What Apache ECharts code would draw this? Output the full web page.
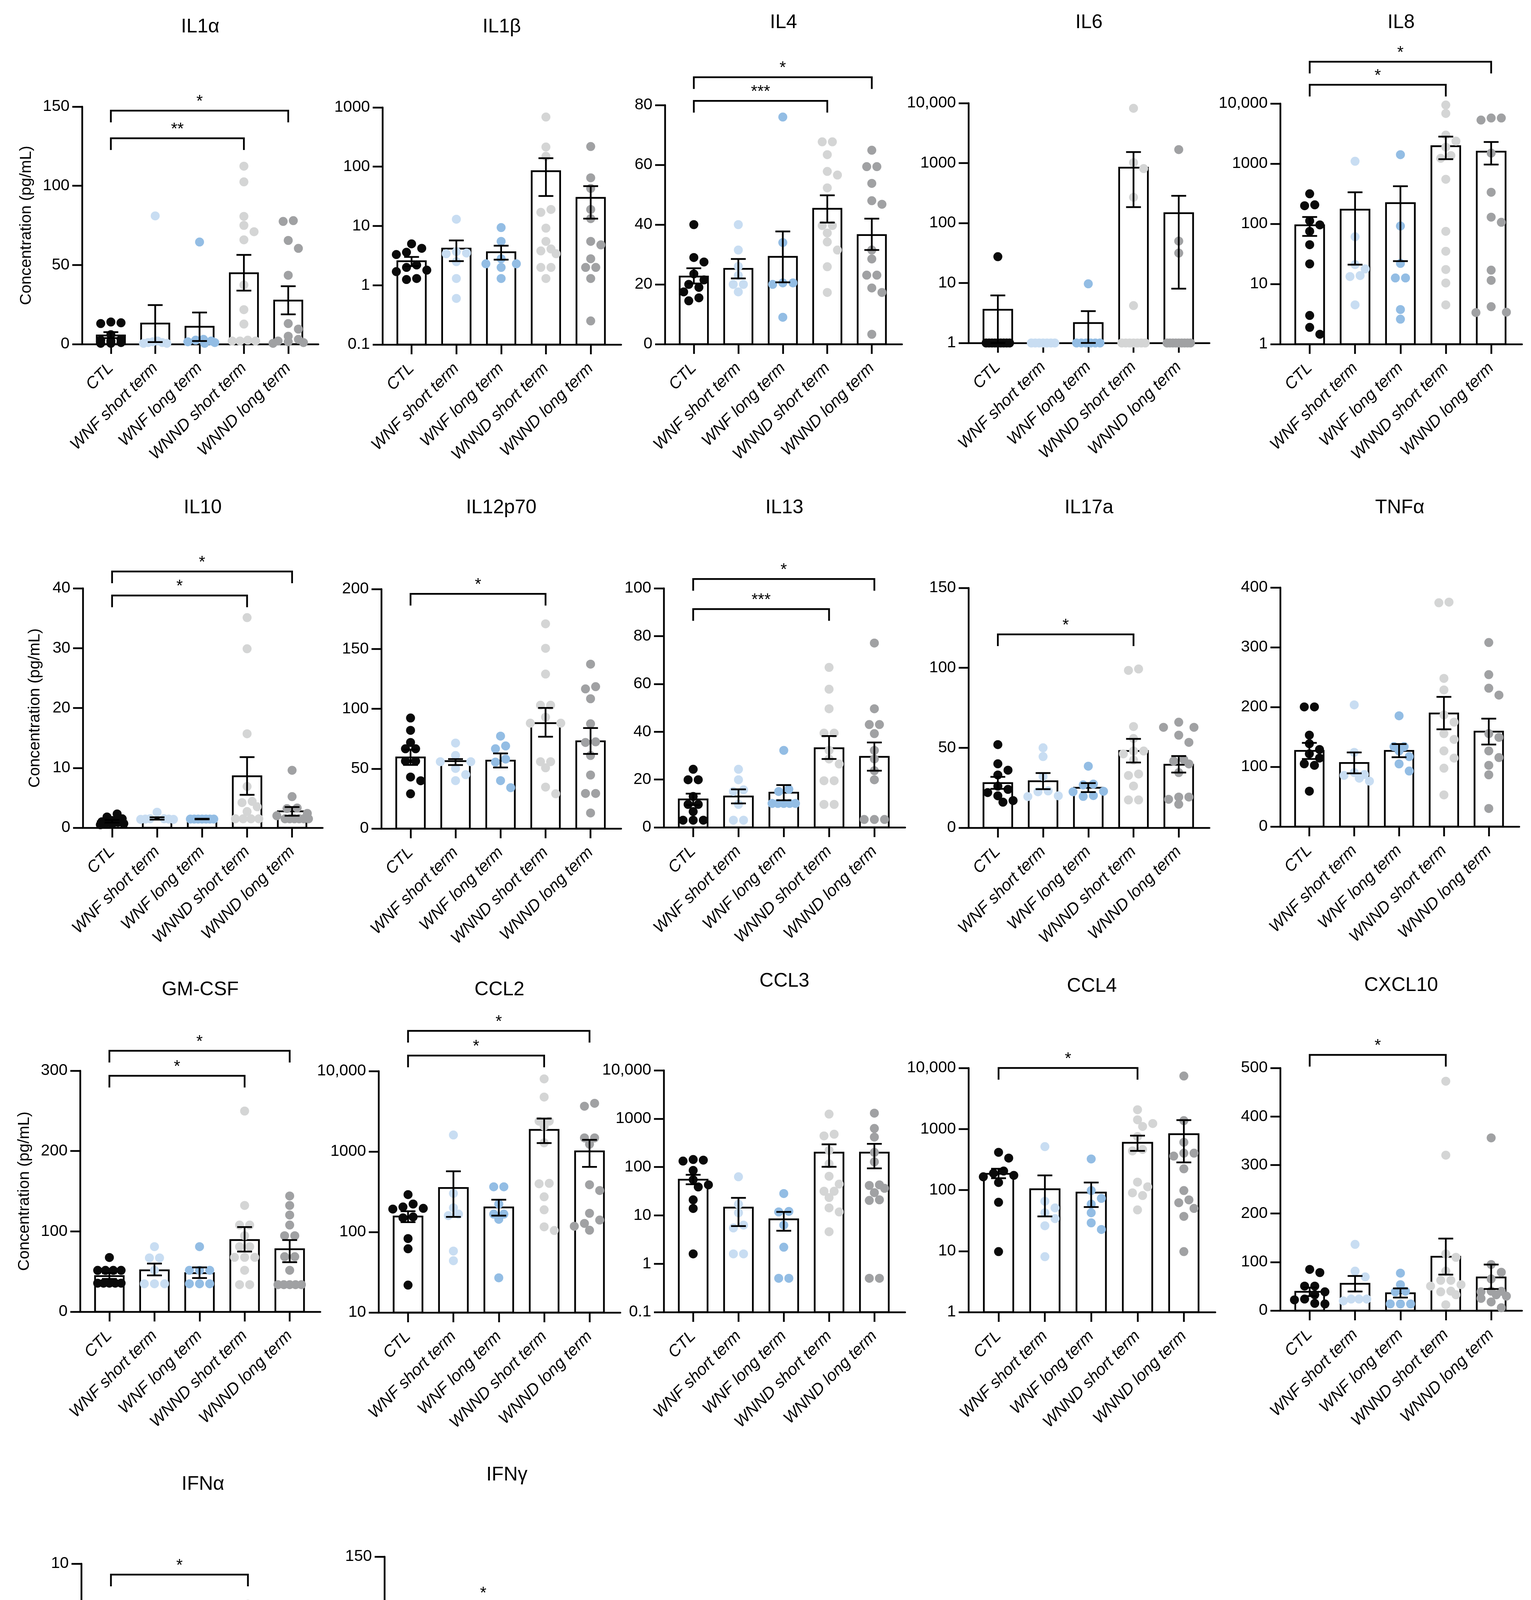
<!DOCTYPE html>
<html>
<head>
<meta charset="utf-8">
<title>Cytokine concentrations</title>
<script src="https://cdn.jsdelivr.net/npm/echarts@6.0.0/dist/echarts.min.js"></script>
<style>
html, body { margin: 0; padding: 0; background: #fff; }
#main { width: 3919px; height: 4944px; }
</style>
</head>
<body>
<div id="main"></div>
<script>
var FONT = "'Liberation Sans', Arial, Helvetica, sans-serif";
var groups = ["CTL", "WNF short term", "WNF long term", "WNND short term", "WNND long term"];
var groupColors = ["#0a0a0a", "#c8ddf2", "#93bde4", "#d4d5d5", "#a0a1a3"];

// IL1α
var il1aMean = [5.5, 13, 11, 44.8, 27.5];
var il1aHi = [7.6, 24.7, 20, 56.4, 36.6];
var il1aLo = [3.8, 1.3, 2, 33.8, 18.8];
var il1aDots = [
    [14, 13.5, 13, 6, 3, 2.5, 2, 1, 0.5, 0.5],
    [81, 2, 1.5, 1, 1, 0.5, 0.5],
    [64.5, 3, 2.5, 2, 1.5, 1, 0.5],
    [112.4, 102.5, 80.7, 75, 71, 65.9, 37.4, 21.8, 12.7, 2.5, 2, 2, 2],
    [78, 77.5, 65.5, 60.5, 43.5, 13, 9.5, 5, 3, 2, 1.5, 1, 0.5]
];
var il1aTicks = [0, 50, 100, 150];
var il1aSig = [[0, 4, 147.5, "*"], [0, 3, 130, "**"]];

// IL1β
var il1bMean = [2.54, 4.14, 3.6, 84, 29.8];
var il1bHi = [3.0, 5.7, 4.65, 139, 47];
var il1bLo = [2.1, 2.55, 2.7, 32, 13.3];
var il1bDots = [
    [5, 4.2, 3.6, 3.3, 2.2, 2, 1.8, 1.7, 1.3, 1.25],
    [13, 3.7, 3.5, 3.4, 2.5, 1.3, 0.6],
    [9.4, 5.5, 2.8, 2.3, 2.3, 2.0, 1.3],
    [689, 215, 150, 19, 17, 9.2, 5.5, 4.1, 3.8, 3.4, 2, 2, 1.3],
    [219, 65, 43, 19, 13.3, 5.5, 4.8, 2.8, 2, 2, 1.3, 0.25]
];
var il1bTicks = [0.1, 1, 10, 100, 1000];
var il1bSig = [];

// IL4
var il4Mean = [22.6, 25.2, 29.2, 45.3, 36.5];
var il4Hi = [25.4, 28.5, 37.7, 49.8, 42];
var il4Lo = [20.3, 22, 20.7, 40.7, 31.5];
var il4Dots = [
    [40, 29, 27.5, 23.5, 21.5, 20, 19, 17.5, 15.5, 14.5],
    [40, 31.5, 26, 23, 20, 20, 17.5],
    [76, 34, 20.5, 20.5, 20, 9],
    [67.7, 67.7, 63.4, 57.8, 56.6, 52.3, 39.7, 39.7, 37.2, 34.2, 31.5, 25.9, 17.3],
    [64.9, 59.4, 59.4, 53.8, 48, 46.8, 31.5, 28.5, 23.1, 23.1, 18.8, 17.3, 3.3]
];
var il4Ticks = [0, 20, 40, 60, 80];
var il4Sig = [[0, 4, 89.3, "*"], [0, 3, 81.4, "***"]];

// IL6
var il6Mean = [3.58, 1, 2.15, 838, 146];
var il6Hi = [6.2, 1, 3.4, 1530, 285];
var il6Lo = [1, 1, 1, 184, 8.05];
var il6Dots = [
    [27.5, 1, 1, 1, 1, 1, 1, 1, 1, 1],
    [1, 1, 1, 1, 1, 1, 1],
    [9.7, 1, 1, 1, 1, 1, 1],
    [8200, 1019, 810, 269, 4.2, 1, 1, 1, 1, 1, 1, 1],
    [1680, 50, 31.6, 1, 1, 1, 1, 1, 1, 1, 1, 1]
];
var il6Ticks = [1, 10, 100, 1000, 10000];
var il6Sig = [];

// IL8
var il8Mean = [94.4, 172, 221, 1950, 1585];
var il8Hi = [130, 335, 422, 2818, 2291];
var il8Lo = [63, 21, 24, 1189, 966];
var il8Dots = [
    [316, 207, 200, 112, 96, 75, 45, 21.6, 3.0, 1.9, 1.46],
    [1096, 61, 21, 17.8, 13.8, 13.3, 4.5],
    [1413, 92, 22, 12.6, 12.6, 3.76, 2.6],
    [9440, 6840, 2985, 2371, 1884, 1365, 1230, 550, 75, 35, 17.4, 10.4, 4.5],
    [5750, 5750, 5310, 1500, 335, 129, 106, 17, 11.5, 4.2, 3.4, 3.35]
];
var il8Ticks = [1, 10, 100, 1000, 10000];
var il8Sig = [[0, 4, 49500, "*"], [0, 3, 20500, "*"]];

// IL10
var il10Mean = [1.06, 1.54, 1.45, 8.6, 2.74];
var il10Hi = [1.3, 1.75, 1.5, 11.8, 3.46];
var il10Lo = [0.85, 1.35, 1.4, 5.5, 2.0];
var il10Dots = [
    [2.3, 1.8, 1.5, 1.2, 1.0, 0.9, 0.8, 0.7, 0.6, 0.5],
    [2.6, 1.5, 1.5, 1.45, 1.45, 1.4, 1.4],
    [1.45, 1.45, 1.45, 1.45, 1.45, 1.45, 1.45],
    [35.1, 29.9, 15.7, 6.9, 4.4, 4.2, 3.5, 2.7, 1.5, 1.5, 1.5, 1.5],
    [9.6, 5.2, 3.3, 3.2, 2.4, 2.0, 1.5, 1.5, 1.5, 1.5, 1.5, 1.5]
];
var il10Ticks = [0, 10, 20, 30, 40];
var il10Sig = [[0, 4, 42.8, "*"], [0, 3, 38.8, "*"]];

// IL12p70
var il12Mean = [59.4, 56.3, 56.7, 88, 72.8];
var il12Hi = [65.9, 58, 62.7, 100.7, 83.9];
var il12Lo = [53.1, 53, 51, 76.7, 62.3];
var il12Dots = [
    [92.3, 82, 71.9, 66.6, 66.6, 56.3, 56.3, 43, 39.9, 29],
    [71.4, 61, 55.8, 55.8, 50.2, 45, 40],
    [77.2, 69, 66.6, 58, 55.5, 40, 34.1],
    [171, 150.5, 129, 103, 103, 93, 88, 88, 55.8, 55.8, 50.7, 34.6, 29],
    [137.3, 118.5, 116.6, 108.4, 87.5, 72.4, 71.9, 61, 44.7, 29.3, 29.3, 13]
];
var il12Ticks = [0, 50, 100, 150, 200];
var il12Sig = [[0, 3, 196, "*"]];

// IL13
var il13Mean = [11.7, 12.9, 14.5, 33.1, 29.5];
var il13Hi = [14.1, 15.9, 17.7, 38.2, 35.5];
var il13Lo = [9.3, 10, 11.3, 28.6, 23.7];
var il13Dots = [
    [24.3, 19.9, 19.9, 12.9, 9.6, 9.6, 6.6, 3, 3, 3],
    [24.3, 19.9, 15.7, 15, 9.6, 3, 3],
    [32.2, 15.9, 15, 10, 10, 10, 10, 10],
    [66.9, 57.8, 49.6, 39.4, 39.4, 32.2, 28.6, 26.5, 19.5, 19.5, 9.6, 9.6],
    [77.1, 49.6, 43, 43, 39.2, 32.2, 28.6, 23.7, 19.9, 3.3, 3.3, 3.3]
];
var il13Ticks = [0, 20, 40, 60, 80, 100];
var il13Sig = [[0, 4, 103.9, "*"], [0, 3, 91.3, "***"]];

// IL17a
var il17Mean = [27.9, 29.1, 25, 48, 39.4];
var il17Hi = [31.8, 34.2, 27.9, 55.6, 44.8];
var il17Lo = [24.3, 24.1, 22.3, 40.8, 34.5];
var il17Dots = [
    [52, 40, 36, 33, 26, 24, 22, 20, 17, 16],
    [50, 44.5, 32, 23, 22.5, 20, 19.5],
    [38.5, 27.3, 26.8, 22.8, 22.5, 20.1, 19.6],
    [99.3, 98.4, 63.3, 55.8, 48, 48, 46.2, 42.3, 33.6, 32.7, 26.1, 17.4, 17.4],
    [66, 62.8, 62.8, 57.9, 53.4, 42.6, 41.7, 39.9, 34.5, 19.2, 19.2, 17.8, 14.7]
];
var il17Ticks = [0, 50, 100, 150];
var il17Sig = [[0, 3, 120.9, "*"]];

// TNFα
var tnfMean = [126.6, 106.4, 126.6, 189.2, 158.8];
var tnfHi = [140, 124, 138, 217, 180.5];
var tnfLo = [113, 89, 116, 162.7, 137.2];
var tnfDots = [
    [200.2, 200.2, 153, 138.6, 129, 121.8, 114.6, 105, 102.5, 59.2],
    [203.6, 124.2, 90.5, 87.1, 85.7, 80.9, 76],
    [185.3, 133.8, 133.8, 126.6, 117, 104.9, 92.9],
    [375.5, 374.5, 247.9, 228.6, 186.8, 174.7, 155.5, 145.8, 126.6, 114.6, 97.7, 53],
    [308, 254.2, 231.5, 220, 155.5, 149.2, 126.6, 115.5, 102.5, 86.6, 30.3]
];
var tnfTicks = [0, 100, 200, 300, 400];
var tnfSig = [];

// GM-CSF
var gmMean = [44.4, 51.6, 48, 89.2, 77.8];
var gmHi = [48, 59.9, 55.2, 105.4, 89.2];
var gmLo = [40.9, 45.2, 41.9, 74.9, 61.6];
var gmDots = [
    [67.5, 51.5, 51.5, 51.5, 51.5, 35.5, 35.5, 35.5, 35.5, 35.5],
    [81, 67, 67, 51.6, 34.8, 34.8, 34.8],
    [81, 51.6, 51.6, 51.6, 34.8, 34.8, 34.8],
    [249.8, 132.3, 107.9, 107.9, 94.6, 81, 81, 67.7, 67.7, 67.7, 51.6, 33.7, 33.7],
    [144.1, 132.3, 120.4, 107.9, 94.6, 94.6, 68.5, 68.5, 51.6, 33.7, 33.7, 33.7, 33.7, 33.7]
];
var gmTicks = [0, 100, 200, 300];
var gmSig = [[0, 4, 324.8, "*"], [0, 3, 293.7, "*"]];

// CCL2
var ccl2Mean = [156, 353, 202, 1862, 1005];
var ccl2Hi = [181.5, 569, 252, 2570, 1397];
var ccl2Lo = [132.6, 154, 160, 1276, 644];
var ccl2Dots = [
    [292, 223, 205, 197, 193, 154, 150, 83, 62, 21.9],
    [1607, 302, 200, 167, 160, 58, 44],
    [365, 365, 223, 167, 167, 144, 27],
    [8000, 4760, 2386, 2386, 2057, 1286, 403, 398, 274, 189, 116, 104.5],
    [3980, 3660, 1480, 1480, 1236, 387, 328, 171, 141, 128, 118, 105.4]
];
var ccl2Ticks = [10, 100, 1000, 10000];
var ccl2Sig = [[0, 4, 31600, "*"], [0, 3, 15600, "*"]];

// CCL3
var ccl3Mean = [54.7, 14.5, 8.3, 198, 198];
var ccl3Hi = [69, 23, 11.8, 295, 302];
var ccl3Lo = [44, 6, 4.8, 101, 94];
var ccl3Dots = [
    [143, 139, 133, 85, 54.7, 42.8, 38.8, 21, 13.9, 1.6],
    [62.8, 17, 11.3, 6.3, 5.5, 1.6, 1.6],
    [28.3, 12.1, 11.8, 6.3, 2.2, 0.5, 0.5],
    [1245, 477, 440, 221, 116, 64.5, 44.5, 31.6, 31.6, 23.4, 14.3, 11.8, 4.6],
    [1300, 628, 416, 201, 128, 42.8, 41.6, 36.3, 29.5, 21, 20.4, 0.5, 0.5]
];
var ccl3Ticks = [0.1, 1, 10, 100, 1000, 10000];
var ccl3Sig = [];

// CCL4
var ccl4Mean = [184, 103, 90.7, 594, 822];
var ccl4Hi = [223, 174, 133, 779, 1400];
var ccl4Lo = [156, 37, 52.7, 438, 284];
var ccl4Dots = [
    [415, 334, 205, 188, 174, 165, 133, 63, 9.8],
    [515, 65.5, 51, 42.4, 34, 26, 8.1],
    [323, 98, 73, 58.8, 42.4, 29, 22.6],
    [2070, 1416, 1230, 1102, 754, 462, 438, 135, 113, 90, 81.3, 47.3],
    [7380, 1371, 607, 402, 402, 360, 223, 98, 69, 62, 50, 37, 9.8]
];
var ccl4Ticks = [1, 10, 100, 1000, 10000];
var ccl4Sig = [[0, 3, 10000, "*"]];

// CXCL10
var cxclMean = [38.6, 55.2, 35.6, 110.9, 68.2];
var cxclHi = [47.4, 71.2, 45.7, 148.3, 94.9];
var cxclLo = [29.7, 39.2, 26.7, 74.1, 44.5];
var cxclDots = [
    [84.8, 78.3, 50.4, 50.4, 38.6, 32.6, 23.7, 22, 14.8, 13.6],
    [136.4, 81.3, 69.4, 23.7, 23.7, 23.7, 20],
    [77.1, 53.4, 39.7, 38.6, 13.6, 13.6, 13.6],
    [472.7, 320.3, 116.8, 109.7, 81.3, 62.3, 62.3, 53.4, 50.4, 40, 38.6, 32.6, 11.9],
    [355.9, 94.9, 78.9, 65.2, 40, 39.7, 38.6, 32.6, 29.7, 25, 17.8, 5.9]
];
var cxclTicks = [0, 100, 200, 300, 400, 500];
var cxclSig = [[0, 3, 527, "*"]];

// IFNα
var ifnaMean = [1.47, 1.31, 1.58, 3.53, 2.79];
var ifnaHi = [1.73, 1.82, 1.92, 4.26, 3.44];
var ifnaLo = [1.22, 0.79, 1.24, 2.85, 2.18];
var ifnaDots = [
    [3.01, 2.28, 1.73, 1.73, 1.6, 1.51, 1.35, 1.03, 0.79, 0],
    [3.74, 2.63, 0.79, 0.79, 0.79, 0.79, 0.13],
    [3.18, 2.27, 1.67, 1.35, 1.15, 1.15, 0.38],
    [8.33, 7.6, 5.22, 4.87, 4.65, 3.91, 3.18, 2.63, 2.27, 1.86, 0.96, 0.79, 0],
    [5.96, 5.77, 5.41, 5.03, 4.46, 2.46, 2.46, 2.46, 1.15, 0.96, 0.32, 0.23, 0]
];
var ifnaTicks = [0, 2, 4, 6, 8, 10];
var ifnaSig = [[0, 3, 9.55, "*"]];

// IFNγ
var ifngMean = [22.6, 20.9, 19.9, 41.9, 33.7];
var ifngHi = [26.6, 25.1, 21.8, 49.6, 39];
var ifngLo = [18.4, 17, 18, 34.2, 28.9];
var ifngDots = [
    [50.9, 36.2, 28.9, 17.8, 17.8, 17.8, 14, 14, 14, 14],
    [38.1, 27.7, 27, 17.8, 14, 14, 10.1],
    [27, 27, 18, 18, 18, 18, 14],
    [104.5, 80.5, 52.2, 51.8, 49, 49, 45.2, 28.9, 27.5, 19.3, 14, 14, 10.1],
    [65.6, 54.5, 54.5, 51.8, 43.2, 34.2, 30.8, 27.4, 19.3, 17.8, 15.9, 14, 6.3]
];
var ifngTicks = [0, 50, 100, 150];
var ifngSig = [[0, 3, 121.7, "*"]];

// panel layout: box = [left, top, width, height] of the plot area
var panels = [
    { title: "IL1α", mean: il1aMean, hi: il1aHi, lo: il1aLo, dots: il1aDots, ticks: il1aTicks, sig: il1aSig, log: false, box: [210, 273, 605, 608], titleY: 69, nameGap: 122 },
    { title: "IL1β", mean: il1bMean, hi: il1bHi, lo: il1bLo, dots: il1bDots, ticks: il1bTicks, sig: il1bSig, log: true, box: [979, 275, 611, 607], titleY: 69 },
    { title: "IL4", mean: il4Mean, hi: il4Hi, lo: il4Lo, dots: il4Dots, ticks: il4Ticks, sig: il4Sig, log: false, box: [1702, 269, 607, 612], titleY: 58 },
    { title: "IL6", mean: il6Mean, hi: il6Hi, lo: il6Lo, dots: il6Dots, ticks: il6Ticks, sig: il6Sig, log: true, box: [2479, 264, 617, 614], titleY: 58 },
    { title: "IL8", mean: il8Mean, hi: il8Hi, lo: il8Lo, dots: il8Dots, ticks: il8Ticks, sig: il8Sig, log: true, box: [3277, 265, 619, 616], titleY: 58 },
    { title: "IL10", mean: il10Mean, hi: il10Hi, lo: il10Lo, dots: il10Dots, ticks: il10Ticks, sig: il10Sig, log: false, box: [212, 1506, 614, 613], titleY: 1300, nameGap: 102 },
    { title: "IL12p70", mean: il12Mean, hi: il12Hi, lo: il12Lo, dots: il12Dots, ticks: il12Ticks, sig: il12Sig, log: false, box: [976, 1508, 614, 613], titleY: 1300 },
    { title: "IL13", mean: il13Mean, hi: il13Hi, lo: il13Lo, dots: il13Dots, ticks: il13Ticks, sig: il13Sig, log: false, box: [1699, 1506, 618, 612], titleY: 1300 },
    { title: "IL17a", mean: il17Mean, hi: il17Hi, lo: il17Lo, dots: il17Dots, ticks: il17Ticks, sig: il17Sig, log: false, box: [2479, 1505, 617, 614], titleY: 1300 },
    { title: "TNFα", mean: tnfMean, hi: tnfHi, lo: tnfLo, dots: tnfDots, ticks: tnfTicks, sig: tnfSig, log: false, box: [3277, 1504, 612, 612], titleY: 1300 },
    { title: "GM-CSF", mean: gmMean, hi: gmHi, lo: gmLo, dots: gmDots, ticks: gmTicks, sig: gmSig, log: false, box: [205, 2741, 615, 617], titleY: 2534, nameGap: 122 },
    { title: "CCL2", mean: ccl2Mean, hi: ccl2Hi, lo: ccl2Lo, dots: ccl2Dots, ticks: ccl2Ticks, sig: ccl2Sig, log: true, box: [969, 2742, 619, 618], titleY: 2534 },
    { title: "CCL3", mean: ccl3Mean, hi: ccl3Hi, lo: ccl3Lo, dots: ccl3Dots, ticks: ccl3Ticks, sig: ccl3Sig, log: true, box: [1699, 2740, 618, 619], titleY: 2512 },
    { title: "CCL4", mean: ccl4Mean, hi: ccl4Hi, lo: ccl4Lo, dots: ccl4Dots, ticks: ccl4Ticks, sig: ccl4Sig, log: true, box: [2479, 2734, 632, 625], titleY: 2525 },
    { title: "CXCL10", mean: cxclMean, hi: cxclHi, lo: cxclLo, dots: cxclDots, ticks: cxclTicks, sig: cxclSig, log: false, box: [3277, 2734, 619, 621], titleY: 2523 },
    { title: "IFNα", mean: ifnaMean, hi: ifnaHi, lo: ifnaLo, dots: ifnaDots, ticks: ifnaTicks, sig: ifnaSig, log: false, box: [208, 4003, 623, 622], titleY: 3800, nameGap: 102 },
    { title: "IFNγ", mean: ifngMean, hi: ifngHi, lo: ifngLo, dots: ifngDots, ticks: ifngTicks, sig: ifngSig, log: false, box: [984, 3985, 627, 625], titleY: 3776 }
];

var LW = 4.5;        // line width of axes, bars, error bars
var DOT = 23;        // dot diameter
var DOT_STEP = 26;   // spacing between neighbouring dots
var DOT_SPREAD = 30; // max half-spread of one row before squeezing
var DOT_LIMIT = 42;  // no dot centre further than this from the bar centre
var CAP = 38;        // error bar cap width
var DROP = 30;       // bracket leg length
var BAR_W = 0.635;   // bar width in category units

// simple beeswarm: rows of close values are centred, rows avoid earlier dots
function swarm(ys) {
    var idx = ys.map(function (y, i) { return i; }).sort(function (a, b) { return ys[a] - ys[b]; });
    var rows = [];
    idx.forEach(function (i) {
        var last = rows[rows.length - 1];
        if (last && ys[i] - ys[last[0]] < DOT * 0.35) {
            last.push(i);
        } else {
            rows.push([i]);
        }
    });
    var placed = [];
    var offs = [];
    rows.forEach(function (row) {
        var n = row.length;
        var s = n > 1 ? Math.min(DOT_STEP, 2 * DOT_SPREAD / (n - 1)) : DOT_STEP;
        var start = n % 2 ? 0 : s / 2;
        var slots = [];
        for (var k = 0; start + k * s <= DOT_LIMIT; k++) {
            var v = start + k * s;
            if (v === 0) {
                slots.push(0);
            } else {
                slots.push(v, -v);
            }
        }
        var used = [];
        var rowPlaced = [];
        row.forEach(function (i) {
            var best = -1, bestD = -1;
            for (var j = 0; j < slots.length; j++) {
                if (used[j]) continue;
                var dmin = Infinity;
                for (var q = 0; q < placed.length; q++) {
                    var dx = slots[j] - placed[q][0], dy = ys[i] - placed[q][1];
                    dmin = Math.min(dmin, Math.sqrt(dx * dx + dy * dy));
                }
                if (dmin >= DOT * 0.9) { best = j; break; }
                if (dmin > bestD + 0.5) { bestD = dmin; best = j; }
            }
            if (best < 0) {
                // row has more dots than slots: squeeze onto the centre line
                offs[i] = 0;
                rowPlaced.push([0, ys[i]]);
                return;
            }
            used[best] = true;
            offs[i] = slots[best];
            rowPlaced.push([slots[best], ys[i]]);
        });
        placed = placed.concat(rowPlaced);
    });
    return offs;
}

function makeBarRender(p) {
    return function (params, api) {
        var g = api.value(0);
        var top = api.coord([g, api.value(1)]);
        var base = api.coord([g, p.ticks[0]]);
        var w = api.coord([g + BAR_W / 2, api.value(1)])[0] - api.coord([g - BAR_W / 2, api.value(1)])[0];
        return {
            type: 'rect',
            shape: { x: top[0] - w / 2, y: top[1], width: w, height: base[1] - top[1] },
            style: { fill: '#fff', stroke: '#000', lineWidth: LW }
        };
    };
}

function makeDotRender(p) {
    return function (params, api) {
        var g = api.value(0);
        var vals = p.dots[g];
        var cx = api.coord([g, p.ticks[0]])[0];
        var ys = vals.map(function (v) { return api.coord([g, v])[1]; });
        var offs = swarm(ys);
        return {
            type: 'group',
            children: vals.map(function (v, k) {
                return {
                    type: 'circle',
                    shape: { cx: cx + offs[k], cy: ys[k], r: DOT / 2 },
                    style: { fill: groupColors[g] }
                };
            })
        };
    };
}

function makeErrRender() {
    return function (params, api) {
        var g = api.value(0);
        var bot = api.coord([g, api.value(1)]);
        var top = api.coord([g, api.value(2)]);
        if (Math.abs(bot[1] - top[1]) < 1) {
            return { type: 'group', children: [] };
        }
        var x = top[0], c = CAP / 2;
        var st = { stroke: '#000', lineWidth: LW, fill: null };
        return {
            type: 'group',
            children: [
                { type: 'line', shape: { x1: x, y1: top[1], x2: x, y2: bot[1] }, style: st },
                { type: 'line', shape: { x1: x - c, y1: top[1], x2: x + c, y2: top[1] }, style: st },
                { type: 'line', shape: { x1: x - c, y1: bot[1], x2: x + c, y2: bot[1] }, style: st }
            ]
        };
    };
}

function makeSigRender(p) {
    return function (params, api) {
        var a = api.coord([api.value(0), api.value(2)]);
        var b = api.coord([api.value(1), api.value(2)]);
        return {
            type: 'group',
            children: [
                {
                    type: 'polyline',
                    shape: { points: [[a[0], a[1] + DROP], [a[0], a[1]], [b[0], b[1]], [b[0], b[1] + DROP]] },
                    style: { stroke: '#000', lineWidth: LW, fill: null }
                },
                {
                    type: 'text',
                    x: (a[0] + b[0]) / 2,
                    y: a[1] - 2,
                    style: {
                        text: p.sig[params.dataIndex][3],
                        fill: '#000',
                        fontSize: 42,
                        fontFamily: FONT,
                        align: 'center',
                        verticalAlign: 'bottom'
                    }
                }
            ]
        };
    };
}

function logLabel(v) {
    var n = Number(Number(v).toPrecision(3));
    return n >= 10000 ? n.toLocaleString('en-US') : String(n);
}

var option = {
    animation: false,
    backgroundColor: '#ffffff',
    title: [],
    grid: [],
    xAxis: [],
    yAxis: [],
    series: []
};

panels.forEach(function (p, i) {
    var axisLine = { show: true, onZero: false, lineStyle: { color: '#000', width: LW } };
    var tickStyle = { color: '#000', width: LW };
    option.title.push({
        text: p.title,
        left: p.box[0] + p.box[2] / 2,
        top: p.titleY,
        textAlign: 'center',
        textVerticalAlign: 'middle',
        padding: 0,
        textStyle: { fontSize: 50, fontWeight: 'normal', color: '#000', fontFamily: FONT }
    });
    option.grid.push({
        left: p.box[0], top: p.box[1], width: p.box[2], height: p.box[3],
        containLabel: false, outerBoundsMode: 'none'
    });
    option.xAxis.push({
        type: 'value',
        gridIndex: i,
        min: -0.65,
        max: 4.68,
        axisLine: axisLine,
        axisTick: { show: true, length: 25, customValues: [0, 1, 2, 3, 4], lineStyle: tickStyle },
        axisLabel: {
            show: true,
            customValues: [0, 1, 2, 3, 4],
            formatter: function (v) { return groups[Math.round(v)]; },
            rotate: 45,
            margin: 55,
            fontSize: 42,
            fontStyle: 'italic',
            color: '#000',
            fontFamily: FONT
        },
        splitLine: { show: false }
    });
    var y = {
        type: p.log ? 'log' : 'value',
        gridIndex: i,
        min: p.ticks[0],
        max: p.ticks[p.ticks.length - 1],
        axisLine: axisLine,
        axisTick: { show: true, length: 25, customValues: p.ticks, lineStyle: tickStyle },
        axisLabel: {
            show: true,
            customValues: p.ticks,
            formatter: p.log ? logLabel : function (v) { return String(v); },
            margin: 32,
            fontSize: 41,
            color: '#000',
            fontFamily: FONT
        },
        splitLine: { show: false }
    };
    if (p.log) y.logBase = 10;
    if (p.nameGap) {
        y.name = 'Concentration (pg/mL)';
        y.nameLocation = 'middle';
        y.nameGap = p.nameGap;
        y.nameRotate = 90;
        y.nameTextStyle = { fontSize: 41, color: '#000', fontFamily: FONT };
    }
    option.yAxis.push(y);

    option.series.push({
        type: 'custom', name: p.title + ' bars', xAxisIndex: i, yAxisIndex: i, clip: false,
        data: p.mean.map(function (m, g) { return [g, m]; }),
        encode: { x: 0, y: 1 },
        renderItem: makeBarRender(p),
        z: 2
    });
    option.series.push({
        type: 'custom', name: p.title + ' dots', xAxisIndex: i, yAxisIndex: i, clip: false,
        data: p.mean.map(function (m, g) { return [g, m]; }),
        encode: { x: 0, y: 1 },
        renderItem: makeDotRender(p),
        z: 3
    });
    option.series.push({
        type: 'custom', name: p.title + ' sem', xAxisIndex: i, yAxisIndex: i, clip: false,
        data: p.mean.map(function (m, g) { return [g, p.lo[g], p.hi[g]]; }),
        encode: { x: 0, y: [1, 2] },
        renderItem: makeErrRender(),
        z: 4
    });
    if (p.sig.length) {
        option.series.push({
            type: 'custom', name: p.title + ' sig', xAxisIndex: i, yAxisIndex: i, clip: false,
            data: p.sig.map(function (s) { return [s[0], s[1], s[2]]; }),
            encode: { x: [0, 1], y: 2 },
            renderItem: makeSigRender(p),
            z: 4
        });
    }
});

var chart = echarts.init(document.getElementById('main'));
chart.setOption(option);
</script>
</body>
</html>
